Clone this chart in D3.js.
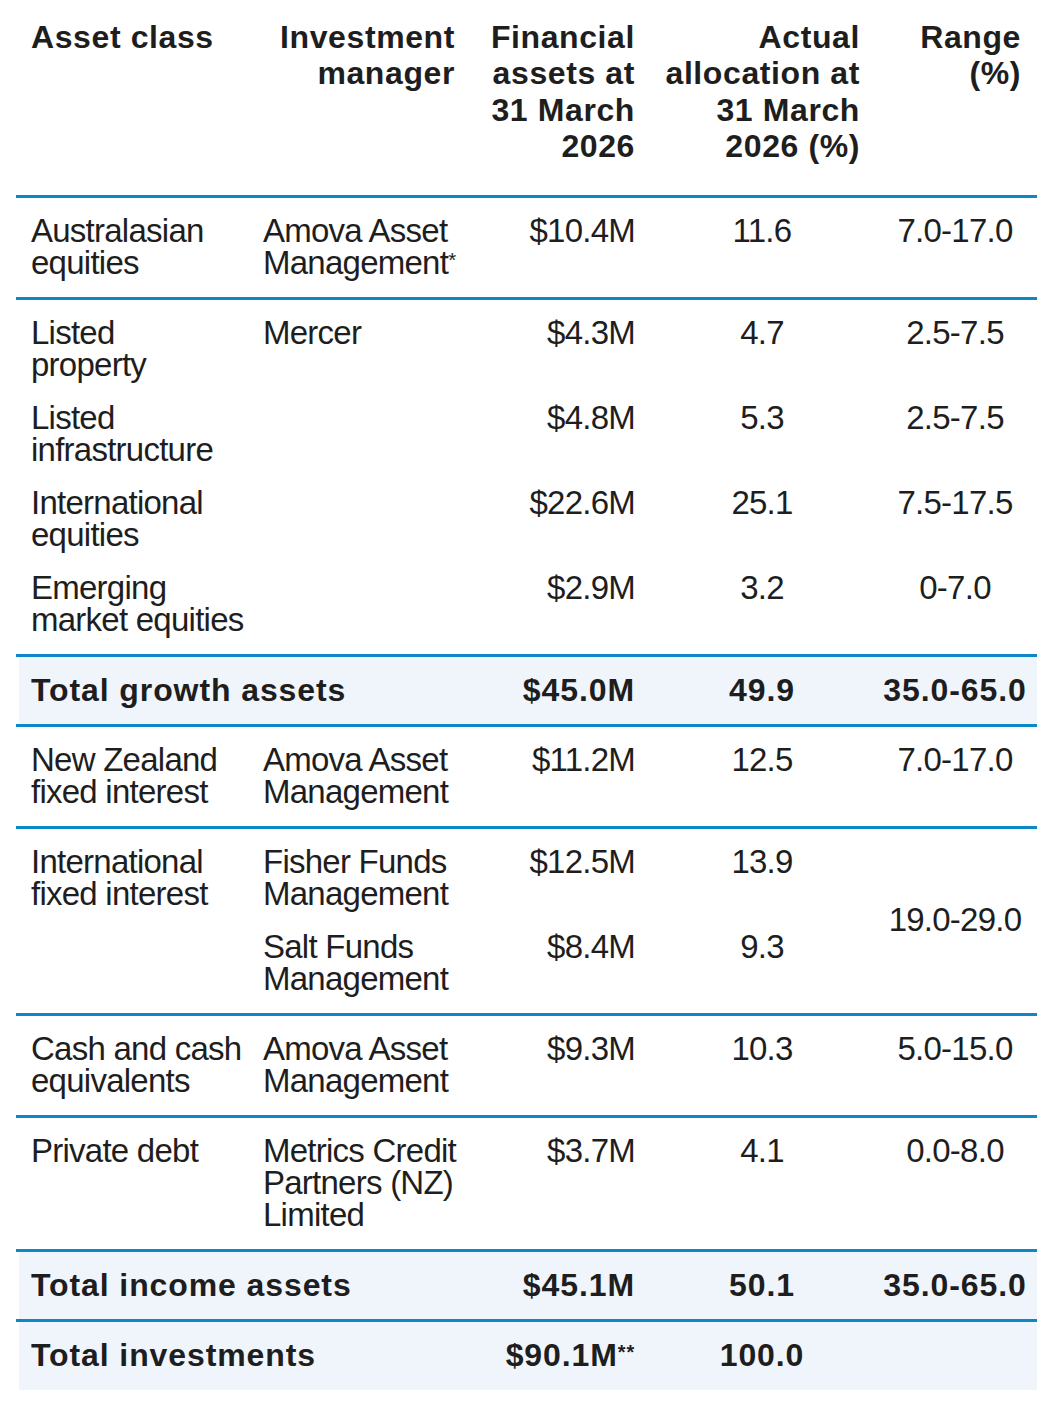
<!DOCTYPE html>
<html>
<head>
<meta charset="utf-8">
<script src="https://cdn.jsdelivr.net/npm/d3@7/dist/d3.min.js"></script>
<style>
  body { margin: 0; background: #fff; }
  svg { display: block; }
  text { font-family: "Liberation Sans", Arial, Helvetica, sans-serif; fill: #1e1e1e; }
  .head { font-size: 32px; font-weight: bold; letter-spacing: 0.6px; }
  .total { font-size: 32px; font-weight: bold; letter-spacing: 0.9px; }
  .body { font-size: 33px; letter-spacing: -0.75px; }
</style>
</head>
<body>
<script>
// table content, "|" marks a line break as in the source
var headers = ["Asset class", "Investment|manager", "Financial|assets at|31 March|2026",
  "Actual|allocation at|31 March|2026 (%)", "Range|(%)"];

var assetClass = ["Australasian|equities", "Listed|property", "Listed|infrastructure",
  "International|equities", "Emerging|market equities", "Total growth assets",
  "New Zealand|fixed interest", "International|fixed interest", "",
  "Cash and cash|equivalents", "Private debt", "Total income assets", "Total investments"];

var managers = ["Amova Asset|Management*", "Mercer", "", "", "", "",
  "Amova Asset|Management", "Fisher Funds|Management", "Salt Funds|Management",
  "Amova Asset|Management", "Metrics Credit|Partners (NZ)|Limited", "", ""];

var assets = ["$10.4M", "$4.3M", "$4.8M", "$22.6M", "$2.9M", "$45.0M", "$11.2M",
  "$12.5M", "$8.4M", "$9.3M", "$3.7M", "$45.1M", "$90.1M**"];

var allocation = [11.6, 4.7, 5.3, 25.1, 3.2, 49.9, 12.5, 13.9, 9.3, 10.3, 4.1, 50.1, 100.0];

// null = merged with the row above
var ranges = ["7.0-17.0", "2.5-7.5", "2.5-7.5", "7.5-17.5", "0-7.0", "35.0-65.0", "7.0-17.0",
  "19.0-29.0", null, "5.0-15.0", "0.0-8.0", "35.0-65.0", ""];

var newGroup = [true, true, false, false, false, true, true, true, false, true, true, true, true];
var totalRow = [false, false, false, false, false, true, false, false, false, false, false, true, true];

var W = 1064, H = 1421;
var LH = 32, HLH = 36.3;
var padTop = 23, padBottom = 15, rowGap = 21, ascent = 24;
var left = 16, right = 1037;
var blue = "#0a88c7", shade = "#f0f5fc";

var cols = ["cls", "mgr", "assets", "alloc", "range"];
var xBody = d3.scaleOrdinal().domain(cols).range([31, 263, 635, 762, 955]);
var aBody = d3.scaleOrdinal().domain(cols).range(["start", "start", "end", "middle", "middle"]);
var xHead = d3.scaleOrdinal().domain(cols).range([31, 455, 635, 860, 1021]);
var aHead = d3.scaleOrdinal().domain(cols).range(["start", "end", "end", "end", "end"]);
var fmt = d3.format(".1f");

var svg = d3.select("body").append("svg").attr("width", W).attr("height", H);
svg.append("rect").attr("width", W).attr("height", H).attr("fill", "#fff");

var gBg = svg.append("g"), gLines = svg.append("g"), gText = svg.append("g");

function cell(str, x, y0, anchor, cls, lh) {
  if (!str) return;
  str.split("|").forEach(function (ln, k) {
    var t = gText.append("text").attr("class", cls)
      .attr("x", x).attr("y", y0 + k * lh).attr("text-anchor", anchor);
    var m = ln.match(/^(.*?)(\*+)$/);
    if (m) {
      t.append("tspan").text(m[1]);
      t.append("tspan").attr("font-size", "0.62em").attr("dy", "-0.35em").text(m[2]);
    } else {
      t.text(ln);
    }
  });
}

// header
headers.forEach(function (h, i) {
  cell(h, xHead(cols[i]), 48, aHead(cols[i]), "head", HLH);
});

// rows layout
var nLines = function (s) { return s ? s.split("|").length : 0; };
var y = 195, seps = [y], rows = [], group = null;
assetClass.forEach(function (c, i) {
  var n = Math.max(1, nLines(c), nLines(managers[i]));
  if (newGroup[i]) {
    if (i > 0) { y += padBottom; seps.push(y); }
    group = { top: y, rows: [] };
    y += padTop;
  } else {
    y += rowGap;
  }
  var r = { i: i, lineTop: y, base: y + ascent, group: group };
  group.rows.push(r);
  rows.push(r);
  y += n * LH;
});
y += padBottom;
var tableBottom = y + 1;

// group bottoms
rows.forEach(function (r, k) {
  var next = rows.slice(k + 1).find(function (q) { return q.group !== r.group; });
  r.group.bottom = next ? next.group.top : tableBottom;
});

// shading for totals
rows.filter(function (r) { return totalRow[r.i]; }).forEach(function (r) {
  gBg.append("rect").attr("x", left + 3).attr("y", r.group.top)
    .attr("width", right - left - 3).attr("height", r.group.bottom - r.group.top)
    .attr("fill", shade);
});

gLines.selectAll("line").data(seps).enter().append("line")
  .attr("x1", left).attr("x2", right)
  .attr("y1", function (d) { return d + 1.5; }).attr("y2", function (d) { return d + 1.5; })
  .attr("stroke", blue).attr("stroke-width", 3);

rows.forEach(function (r) {
  var i = r.i, cls = totalRow[i] ? "total" : "body";
  cell(assetClass[i], xBody("cls"), r.base, aBody("cls"), cls, LH);
  cell(managers[i], xBody("mgr"), r.base, aBody("mgr"), cls, LH);
  cell(assets[i], xBody("assets"), r.base, aBody("assets"), cls, LH);
  cell(fmt(allocation[i]), xBody("alloc"), r.base, aBody("alloc"), cls, LH);
  if (ranges[i] === null) return;
  var spansNext = ranges[i + 1] === null;
  var ry = spansNext ? (r.group.top + r.group.bottom) / 2 + 11 : r.base;
  cell(ranges[i], xBody("range"), ry, aBody("range"), cls, LH);
});
</script>
</body>
</html>
